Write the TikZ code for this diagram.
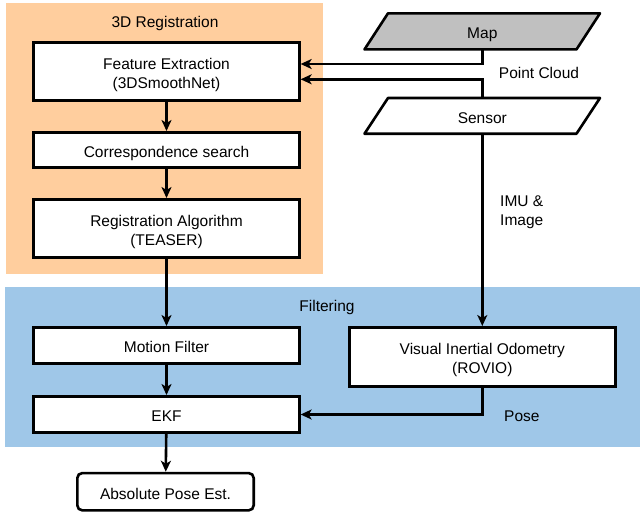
\documentclass[tikz,border=0pt]{standalone}
\usepackage{fontspec}
\setmainfont{Liberation Sans}
\usetikzlibrary{arrows.meta}
\definecolor{regbg}{HTML}{FFCE9E}
\definecolor{filtbg}{HTML}{9FC7E8}
\definecolor{mapgray}{HTML}{C0C0C0}
\newcommand{\topstrut}{\rule{0pt}{18.6pt}}
\newcommand{\botstrut}{\rule[-4pt]{0pt}{4pt}}
\begin{document}
\begin{tikzpicture}[x=1pt,y=-1pt,
  every node/.style={font=\fontsize{15.5}{19}\selectfont},
  struts/.style={execute at begin node={\topstrut},execute at end node={\botstrut}},
  boxbase/.style={draw,line width=2.6pt,fill=white,inner sep=0pt,align=center,minimum width=265.7pt},
  box/.style={boxbase,struts},
  para/.style={struts,inner sep=0pt,minimum width=214pt,minimum height=36pt},
  shapeline/.style={line width=2.6pt,line join=round},
  conn/.style={line width=2.6pt,-{Stealth[length=11pt,width=10pt,inset=3pt]}},
  lbl/.style={struts,inner sep=0pt,align=left},
  lbltwo/.style={inner sep=0pt,align=left}]
\useasboundingbox (0,0) rectangle (642,515);
% backgrounds
\fill[regbg] (6,3) rectangle (323,274);
\fill[filtbg] (5,287) rectangle (640,447);
\node[lbl] (regtitle) at (165,20) {3D Registration};
\node[lbl] (filttitle) at (327,304.3) {Filtering};
% left column
\node[boxbase,minimum height=58.4pt] (fe) at (166.5,71.5) {\topstrut Feature Extraction\\(3DSmoothNet)\botstrut};
\node[box,minimum height=35.4pt] (cs) at (166.5,150) {Correspondence search};
\node[boxbase,minimum height=58.4pt] (ra) at (166.5,228.5) {\topstrut Registration Algorithm\\(TEASER)\botstrut};
\node[box,minimum height=36.4pt] (mf) at (166.5,345.5) {Motion Filter};
\node[box,minimum height=36.4pt] (ekf) at (166.5,414.5) {EKF};
\node[box,minimum width=176.4pt,minimum height=37.3pt,rounded corners=5pt] (abs) at (165.5,491.7) {Absolute Pose Est.};
% right column
\filldraw[fill=mapgray,shapeline] (388,13.3) -- (600,13.3) -- (576.5,49.4) -- (364.5,49.4) -- cycle;
\node[para] (map) at (482.3,31.4) {Map};
\filldraw[fill=white,shapeline] (388,98) -- (600,98) -- (576.5,133.7) -- (364.5,133.7) -- cycle;
\node[para,minimum height=35.7pt] (sensor) at (482.3,115.9) {Sensor};
\node[boxbase,minimum width=266pt,minimum height=59pt] (vio) at (482.3,356.8) {\topstrut Visual Inertial Odometry\\(ROVIO)\botstrut};
% connector end points
\coordinate (fein1) at (fe.east |- 0,64);
\coordinate (fein2) at (fe.east |- 0,79.3);
% connectors
\draw[conn] (map.south) |- (fein1);
\draw[conn] (sensor.north) |- (fein2);
\draw[conn] (fe) -- (cs);
\draw[conn] (cs) -- (ra);
\draw[conn] (ra) -- (mf);
\draw[conn] (mf) -- (ekf);
\draw[conn] (ekf) -- (abs);
\draw[conn] (sensor.south) -- (vio.north);
\draw[conn] (vio.south) |- (ekf.east);
% labels
\node[lbl] (pc) at (539,71.6) {Point Cloud};
\node[lbltwo,anchor=west] (imu) at (500,208.6) {\topstrut IMU \&\\Image\botstrut};
\node[lbl,anchor=west] (pose) at (504,414) {Pose};
\end{tikzpicture}
\end{document}
